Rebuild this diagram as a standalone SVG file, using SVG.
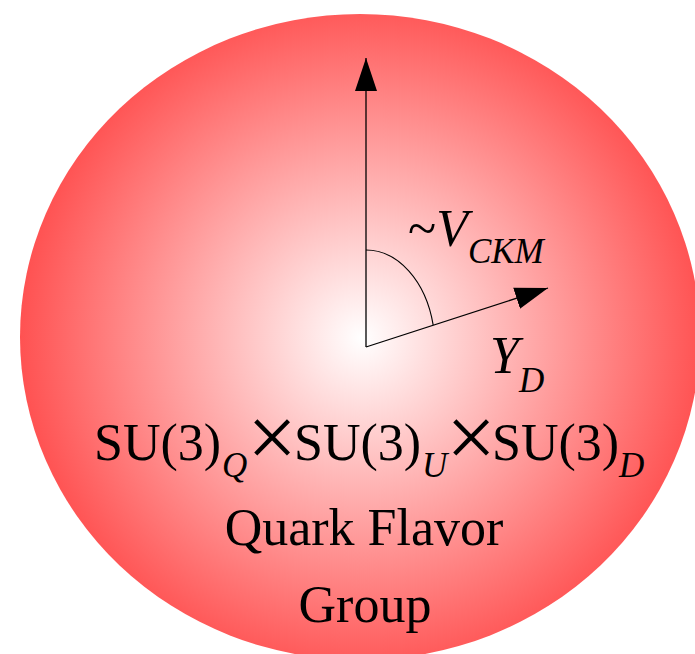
<svg xmlns="http://www.w3.org/2000/svg" width="695" height="654" viewBox="0 0 695 654">
  <defs>
    <radialGradient id="redGrad" gradientUnits="userSpaceOnUse" cx="362" cy="338" r="345">
      <stop offset="0" stop-color="#FFFFFF"/>
      <stop offset="1" stop-color="#FF5050"/>
    </radialGradient>
    <marker id="arrowHead" markerUnits="userSpaceOnUse" markerWidth="34" markerHeight="24" refX="33" refY="12" orient="auto">
      <path d="M0,1 L33,12 L0,23 Z" fill="#000"/>
    </marker>
  </defs>
  <style>
    .lbl { font-family: "Liberation Serif", "Times New Roman", serif; font-size: 52px; fill: #000; }
    .it { font-style: italic; }
    .sub { font-style: italic; font-size: 35px; }
    .times { font-size: 88px; }
    .axis { stroke: #000; stroke-width: 1.3; fill: none; }
    .angle { stroke: #000; stroke-width: 1.1; fill: none; }
  </style>
  <rect width="695" height="654" fill="#FFFFFF"/>
  <g id="flavor-sphere">
    <ellipse cx="360" cy="337" rx="340" ry="323" fill="url(#redGrad)"/>
  </g>
  <g id="connectors">
    <line class="axis" x1="366" y1="347" x2="366" y2="58" marker-end="url(#arrowHead)"/>
    <line class="axis" x1="366" y1="347" x2="548" y2="288" marker-end="url(#arrowHead)"/>
    <path class="angle" d="M366,250 A69,97 0 0 1 433.2,325.2"/>
  </g>
  <g id="label-vckm">
    <text class="lbl" x="408" y="246">~<tspan class="it">V</tspan><tspan class="sub" dy="17">CKM</tspan></text>
  </g>
  <g id="label-yd">
    <text class="lbl" x="490" y="373"><tspan class="it">Y</tspan><tspan class="sub" dy="19">D</tspan></text>
  </g>
  <g id="label-group">
    <text class="lbl" x="94" y="460">SU(3)</text>
    <text class="lbl sub" x="222" y="477">Q</text>
    <text class="lbl times" x="272" y="467" text-anchor="middle">×</text>
    <text class="lbl" x="294" y="460">SU(3)</text>
    <text class="lbl sub" x="422" y="477">U</text>
    <text class="lbl times" x="471" y="467" text-anchor="middle">×</text>
    <text class="lbl" x="492" y="460">SU(3)</text>
    <text class="lbl sub" x="619" y="477">D</text>
    <text class="lbl" x="364" y="545" text-anchor="middle">Quark Flavor</text>
    <text class="lbl" x="365" y="622" text-anchor="middle">Group</text>
  </g>
</svg>
